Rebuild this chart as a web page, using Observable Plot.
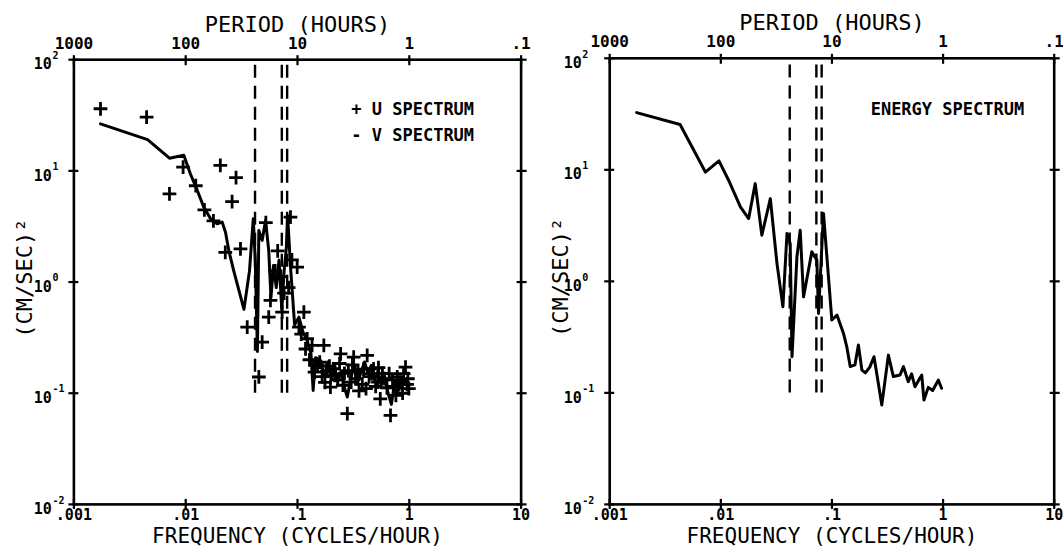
<!DOCTYPE html>
<html><head><meta charset="utf-8">
<script src="https://cdn.jsdelivr.net/npm/d3@7"></script>
<script src="https://cdn.jsdelivr.net/npm/@observablehq/plot@0.6"></script>
<style>
body{margin:0;background:#fff;}
#wrap{display:flex;width:1063px;height:547px;background:#fff;}
</style></head><body><div id="wrap"></div>
<script>
// ---- axes ----
const freqTicks = [0.001, 0.01, 0.1, 1, 10];
const freqTickLabels = [".001", ".01", ".1", "1", "10"];
const periodTickLabels = ["1000", "100", "10", "1", ".1"];
const powerTicks = [0.01, 0.1, 1, 10, 100];
const powerBase = "10";
const powerExponents = ["-2", "-1", "0", "1", "2"];

// ---- reference (tidal / inertial) frequencies, cycles/hour ----
const refFreqs = [0.0417, 0.0724, 0.0808];
const refPowerRange = [0.1, 100];

// ---- U spectrum (plus markers) ----
const uFreq = [0.00173,0.00447,0.00716,0.00948,0.0123,0.0147,0.0177,0.0204,0.0282,0.0260,
  0.0226,0.0309,0.0521,0.0865,0.0993,0.0665,0.0573,0.0553,0.0355,0.0483,
  0.0451,0.0729,0.114,0.103,0.122,0.135,0.172,0.243,0.318,0.420,
  0.925,0.279,0.679,0.991,0.197,0.0708,0.0759,0.0832,0.0891,0.0631,
  0.151,0.166,0.182,0.209,0.229,0.263,0.302,0.347,0.380,0.437,
  0.479,0.525,0.575,0.631,0.708,0.759,0.832,0.871,0.955,0.355,0.550,
  0.128,0.142,0.158,0.176,0.193,0.215,0.238,0.255,0.285,0.310,
  0.330,0.390,0.410,0.460,0.500,0.530,0.600,0.660,0.720,0.780,
  0.860,0.890,0.970,0.118,0.108];
const uPower = [36.2,30.5,6.21,10.8,7.35,4.45,3.55,11.2,8.71,5.28,
  1.85,1.99,3.43,3.84,1.36,1.91,0.684,0.483,0.393,0.288,
  0.140,0.536,0.536,0.393,0.309,0.269,0.269,0.226,0.211,0.219,
  0.172,0.0655,0.0631,0.110,0.1135,1.12,0.794,0.891,1.58,1.26,
  0.178,0.141,0.158,0.166,0.132,0.151,0.126,0.158,0.120,0.141,
  0.166,0.126,0.151,0.112,0.132,0.0955,0.126,0.100,0.120,0.105,0.0891,
  0.200,0.155,0.190,0.125,0.175,0.145,0.185,0.118,0.160,0.180,
  0.135,0.165,0.110,0.150,0.115,0.170,0.135,0.150,0.115,0.140,
  0.120,0.150,0.135,0.250,0.340];

// ---- V spectrum (solid line) ----
const vFreq = [0.00173,0.00456,0.00716,0.00962,0.0110,0.0127,0.0145,0.0167,0.0191,0.0212,
  0.0227,0.0243,0.0269,0.0332,0.0372,0.0402,0.0419,0.0438,0.0451,0.0483,
  0.0518,0.0553,0.0579,0.0610,0.0646,0.0684,0.0724,0.0759,0.0794,0.0815,
  0.0871,0.0942,0.103,0.112,0.122,0.132,0.138,0.145,0.161,0.174,
  0.186,0.200,0.214,0.229,0.246,0.263,0.279,0.302,0.324,0.347,
  0.372,0.398,0.427,0.457,0.490,0.525,0.562,0.603,0.646,0.692,
  0.741,0.794,0.851,0.912,0.977];
const vPower = [26.5,19.1,13.0,13.8,9.42,6.67,4.72,3.71,3.34,3.46,
  2.81,1.92,1.26,0.568,1.26,3.71,1.58,0.237,2.91,2.37,
  3.58,1.92,0.728,1.41,0.891,1.58,0.562,1.26,2.00,3.97,
  1.26,0.414,0.483,0.355,0.299,0.226,0.106,0.209,0.197,0.141,
  0.191,0.132,0.178,0.126,0.158,0.112,0.0925,0.141,0.178,0.126,
  0.158,0.191,0.151,0.178,0.132,0.158,0.120,0.141,0.100,0.0794,
  0.126,0.105,0.120,0.132,0.112];

// ---- Energy spectrum (solid line) ----
const eFreq = [0.00175,0.00430,0.00726,0.00962,0.01175,0.0150,0.0178,0.0204,0.0234,0.0279,
  0.0320,0.0362,0.0394,0.0421,0.0437,0.0484,0.0518,0.0555,0.0659,0.0731,
  0.0757,0.0839,0.0998,0.111,0.127,0.136,0.146,0.161,0.173,0.186,
  0.200,0.219,0.239,0.257,0.281,0.322,0.357,0.410,0.440,0.486,
  0.521,0.558,0.643,0.673,0.736,0.805,0.906,0.970];
const ePower = [32.6,25.5,9.55,12.05,8.07,4.65,3.66,7.52,2.59,5.52,
  1.45,0.592,2.69,2.18,0.211,1.66,2.87,0.726,1.84,1.55,
  0.516,4.06,0.450,0.498,0.341,0.259,0.172,0.178,0.269,0.160,
  0.151,0.170,0.211,0.135,0.078,0.218,0.140,0.1445,0.172,0.126,
  0.148,0.1135,0.1445,0.0863,0.112,0.105,0.130,0.110];

const titleTop = "PERIOD (HOURS)";
const titleBottom = "FREQUENCY (CYCLES/HOUR)";
const yTitle = "(CM/SEC)²";

const FONT = "'DejaVu Sans Mono', monospace";

function panel(cfg) {
  const {width, margin, legends, yLabelDx, extra} = cfg;
  const mid = {textAnchor: "middle", lineAnchor: "middle"};
  const marks = [
    // reference dashed lines
    Plot.ruleX(refFreqs, {x: d => d, y1: refPowerRange[0], y2: refPowerRange[1],
      stroke: "#000", strokeWidth: 2.4, strokeDasharray: "13,8"}),
    ...extra,
    Plot.frame({stroke: "#000", strokeWidth: 2.6}),
    // ticks crossing the frame
    Plot.axisX({anchor: "bottom", ticks: freqTicks, tickSize: 10, dy: -5, tickFormat: () => "", label: null, strokeWidth: 2.2}),
    Plot.axisX({anchor: "top", ticks: freqTicks, tickSize: 10, dy: 5, tickFormat: () => "", label: null, strokeWidth: 2.2}),
    Plot.axisY({anchor: "left", ticks: powerTicks, tickSize: 10, dx: 5, tickFormat: () => "", label: null, strokeWidth: 2.2}),
    Plot.axisY({anchor: "right", ticks: powerTicks, tickSize: 10, dx: -5, tickFormat: () => "", label: null, strokeWidth: 2.2}),
    // tick labels
    Plot.text(freqTicks, {x: d => d, frameAnchor: "bottom", text: (d, i) => freqTickLabels[i], ...mid,
      dy: 11, fontSize: 15, fontWeight: "bold"}),
    Plot.text(freqTicks, {x: d => d, frameAnchor: "top", text: (d, i) => periodTickLabels[i], ...mid,
      dy: -16, fontSize: 16, fontWeight: "bold"}),
    Plot.text(powerTicks, {y: d => d, frameAnchor: "left", text: () => powerBase,
      textAnchor: "end", lineAnchor: "top", dx: yLabelDx, dy: -1, fontSize: 15, fontWeight: "bold"}),
    Plot.text(powerTicks, {y: d => d, frameAnchor: "left", text: (d, i) => powerExponents[i],
      textAnchor: "start", lineAnchor: "middle", dx: yLabelDx + 0.5, dy: -4, fontSize: 10, fontWeight: "bold"}),
    // axis titles
    Plot.text([titleTop], {text: d => d, frameAnchor: "top", ...mid, dy: -35, fontSize: 22}),
    Plot.text([titleBottom], {text: d => d, frameAnchor: "bottom", ...mid, dy: 32, fontSize: 21}),
    Plot.text([yTitle], {text: d => d, frameAnchor: "left", ...mid, rotate: -90, dx: -49, dy: -4, fontSize: 22}),
    // legend
    ...legends.map((s, i) => Plot.text([s], {text: d => d, frameAnchor: "top-right", textAnchor: "end", lineAnchor: "middle",
      dx: cfg.legendDx, dy: cfg.legendDy + 26 * i, fontSize: 17, fontWeight: "bold"}))
  ];
  return Plot.plot({
    width, height: 547,
    marginTop: margin[0], marginRight: margin[1], marginBottom: margin[2], marginLeft: margin[3],
    style: {fontFamily: FONT, background: "#fff", color: "#000"},
    x: {type: "log", domain: [freqTicks[0], freqTicks[freqTicks.length - 1]], label: null},
    y: {type: "log", domain: [powerTicks[0], powerTicks[powerTicks.length - 1]], label: null},
    marks
  });
}

const left = panel({
  width: 531, margin: [59.2, 10.4, 43.1, 73.4], yLabelDx: -22, legendDx: -47, legendDy: 50,
  legends: ["+ U SPECTRUM", "- V SPECTRUM"],
  extra: [
    Plot.line(vFreq, {x: d => d, y: (d, i) => vPower[i], stroke: "#000", strokeWidth: 3, strokeLinejoin: "round"}),
    Plot.dot(uFreq, {x: d => d, y: (d, i) => uPower[i], symbol: "plus", r: 4.5, stroke: "#000", strokeWidth: 2.8})
  ]
});
const right = panel({
  width: 532, margin: [57.8, 9.3, 43.1, 78.2], yLabelDx: -28, legendDx: -30, legendDy: 51,
  legends: ["ENERGY SPECTRUM"],
  extra: [
    Plot.line(eFreq, {x: d => d, y: (d, i) => ePower[i], stroke: "#000", strokeWidth: 3, strokeLinejoin: "round"})
  ]
});
document.getElementById("wrap").append(left, right);
</script></body></html>
